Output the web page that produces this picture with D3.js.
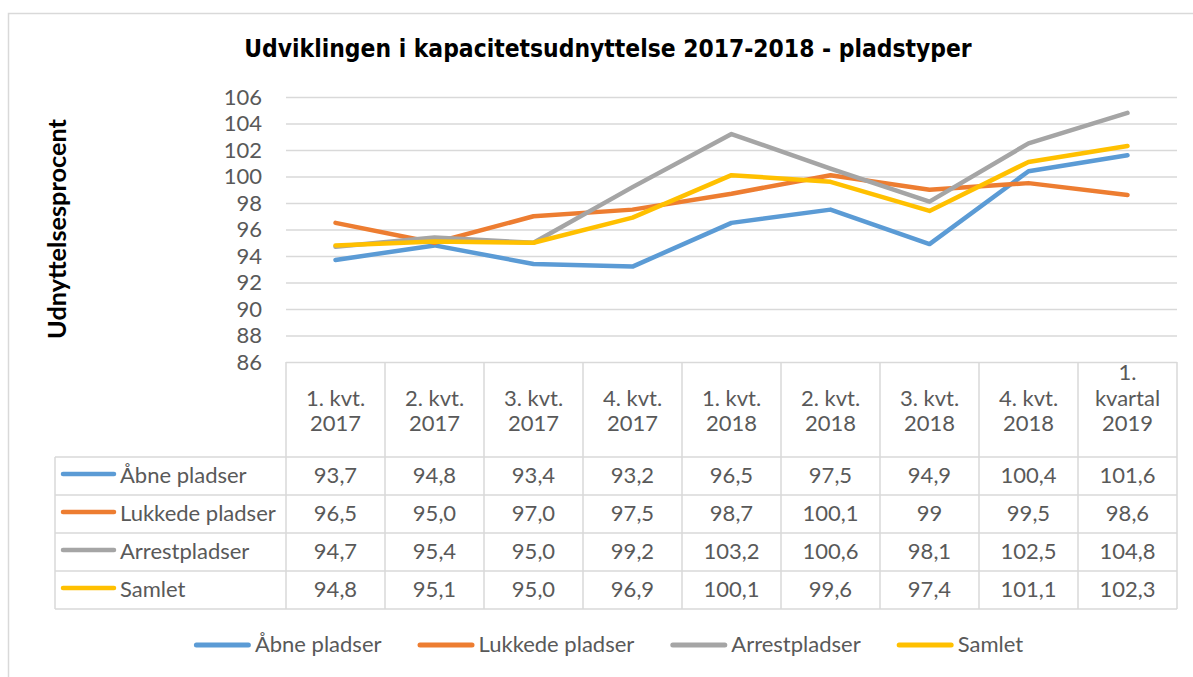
<!DOCTYPE html>
<html>
<head>
<meta charset="utf-8">
<script src="https://cdn.jsdelivr.net/npm/d3@7"></script>
<style>
  html, body { margin: 0; padding: 0; background: #fff; }
  svg { display: block; }
  text { font-family: Lato, "Open Sans", sans-serif; }
</style>
</head>
<body>
<svg id="chart" width="1193" height="677"></svg>
<script>
// ---- data ----
const categories = [
  ["1. kvt.", "2017"], ["2. kvt.", "2017"], ["3. kvt.", "2017"], ["4. kvt.", "2017"],
  ["1. kvt.", "2018"], ["2. kvt.", "2018"], ["3. kvt.", "2018"], ["4. kvt.", "2018"],
  ["1.", "kvartal", "2019"]
];
const seriesNames = ["Åbne pladser", "Lukkede pladser", "Arrestpladser", "Samlet"];
const aabne    = [93.7, 94.8, 93.4, 93.2, 96.5, 97.5, 94.9, 100.4, 101.6];
const lukkede  = [96.5, 95.0, 97.0, 97.5, 98.7, 100.1, 99, 99.5, 98.6];
const arrest   = [94.7, 95.4, 95.0, 99.2, 103.2, 100.6, 98.1, 102.5, 104.8];
const samlet   = [94.8, 95.1, 95.0, 96.9, 100.1, 99.6, 97.4, 101.1, 102.3];
// how each value is printed in the data table
const aabneLabels   = ["93,7","94,8","93,4","93,2","96,5","97,5","94,9","100,4","101,6"];
const lukkedeLabels = ["96,5","95,0","97,0","97,5","98,7","100,1","99","99,5","98,6"];
const arrestLabels  = ["94,7","95,4","95,0","99,2","103,2","100,6","98,1","102,5","104,8"];
const samletLabels  = ["94,8","95,1","95,0","96,9","100,1","99,6","97,4","101,1","102,3"];
const yTicks = [86, 88, 90, 92, 94, 96, 98, 100, 102, 104, 106];
const titleText = "Udviklingen i kapacitetsudnyttelse 2017-2018 - pladstyper";
const yTitleText = "Udnyttelsesprocent";

const colors = ["#5B9BD5", "#ED7D31", "#A5A5A5", "#FFC000"];
const seriesValues = [aabne, lukkede, arrest, samlet];
const seriesLabels = [aabneLabels, lukkedeLabels, arrestLabels, samletLabels];

// ---- layout ----
const svg = d3.select("#chart");
const plotLeft = 286, plotRight = 1177, plotTop = 97, plotBottom = 362;
const keyLeft = 55;
const headerBottom = 457;
const rowH = 38;
const gridColor = "#D9D9D9";
const textColor = "#595959";
const fontSize = 22;

const catIdx = categories.map((d, i) => i);
const x = d3.scaleBand().domain(catIdx).range([plotLeft, plotRight]).padding(0);
const y = d3.scaleLinear().domain([86, 106]).range([plotBottom, plotTop]);

// chart border
svg.append("rect")
  .attr("x", 8.5).attr("y", 13.5).attr("width", 1300).attr("height", 800)
  .attr("fill", "none").attr("stroke", gridColor).attr("stroke-width", 1.5);

// title
const title = svg.append("text")
  .attr("x", 608).attr("y", 57)
  .attr("text-anchor", "middle")
  .style("font-family", "'DejaVu Sans Condensed', 'DejaVu Sans', sans-serif")
  .style("font-stretch", "condensed")
  .style("font-weight", "bold")
  .style("font-size", "22px")
  .attr("fill", "#000")
  .text(titleText);
{
  const w = title.node().getComputedTextLength();
  title.style("font-size", (22 * 728 / w) + "px");
}

// y title
const yTitle = svg.append("text")
  .attr("transform", "translate(66,229) rotate(-90)")
  .attr("text-anchor", "middle")
  .style("font-weight", "bold")
  .style("font-size", "24px")
  .attr("fill", "#000")
  .text(yTitleText);
{
  const w = yTitle.node().getComputedTextLength();
  yTitle.style("font-size", (24 * 220 / w) + "px");
}

// gridlines
const grid = svg.append("g")
  .attr("transform", `translate(${plotLeft},0)`)
  .call(d3.axisLeft(y).tickValues(yTicks).tickSize(-(plotRight - plotLeft)).tickFormat(""));
grid.select(".domain").remove();
grid.selectAll(".tick line").attr("stroke", gridColor).attr("stroke-width", 1.5);

// y axis labels
const yAxis = svg.append("g")
  .attr("transform", `translate(262,0)`)
  .call(d3.axisLeft(y).tickValues(yTicks).tickSize(0).tickPadding(0).tickFormat(d3.format("d")));
yAxis.select(".domain").remove();
yAxis.selectAll(".tick text")
  .attr("fill", textColor)
  .style("font-size", fontSize + "px")
  .style("font-family", "Lato, sans-serif");

// ---- data table ----
const table = svg.append("g");
const tableBottom = headerBottom + rowH * seriesNames.length;
const rowLines = d3.range(seriesNames.length + 1).map(i => headerBottom + i * rowH);
table.selectAll("line.h").data(rowLines).join("line")
  .attr("x1", keyLeft).attr("x2", plotRight)
  .attr("y1", d => d).attr("y2", d => d)
  .attr("stroke", gridColor).attr("stroke-width", 1.5);
const bounds = catIdx.map(i => x(i)).concat([x(catIdx[catIdx.length - 1]) + x.bandwidth()]);
table.selectAll("line.v").data(bounds).join("line")
  .attr("x1", d => d).attr("x2", d => d)
  .attr("y1", plotBottom).attr("y2", tableBottom)
  .attr("stroke", gridColor).attr("stroke-width", 1.5);
table.append("line")
  .attr("x1", keyLeft).attr("x2", keyLeft)
  .attr("y1", headerBottom).attr("y2", tableBottom)
  .attr("stroke", gridColor).attr("stroke-width", 1.5);

// header labels (bottom aligned)
const headerLastBaseline = 431, headerLineH = 25.5;
categories.forEach((lines, i) => {
  const t = table.append("text")
    .attr("text-anchor", "middle")
    .attr("fill", textColor)
    .style("font-size", fontSize + "px");
  lines.forEach((ln, j) => {
    t.append("tspan")
      .attr("x", x(i) + x.bandwidth() / 2)
      .attr("y", headerLastBaseline - (lines.length - 1 - j) * headerLineH)
      .text(ln);
  });
});

// rows
seriesNames.forEach((name, s) => {
  const cy = headerBottom + s * rowH + rowH / 2;
  table.append("line")
    .attr("x1", 63).attr("x2", 114)
    .attr("y1", cy - 2).attr("y2", cy - 2)
    .attr("stroke", colors[s]).attr("stroke-width", 4.5).attr("stroke-linecap", "round");
  table.append("text")
    .attr("x", 120).attr("y", cy + 7)
    .attr("fill", textColor)
    .style("font-size", fontSize + "px")
    .text(name);
  table.selectAll(null).data(seriesLabels[s]).join("text")
    .attr("x", (d, i) => x(i) + x.bandwidth() / 2)
    .attr("y", cy + 7)
    .attr("text-anchor", "middle")
    .attr("fill", textColor)
    .style("font-size", fontSize + "px")
    .text(d => d);
});

// ---- lines ----
const line = d3.line()
  .x((d, i) => x(i) + x.bandwidth() / 2)
  .y(d => y(d));
svg.append("g").selectAll("path").data(seriesValues).join("path")
  .attr("d", d => line(d))
  .attr("fill", "none")
  .attr("stroke", (d, i) => colors[i])
  .attr("stroke-width", 4.5)
  .attr("stroke-linejoin", "round")
  .attr("stroke-linecap", "round");

// ---- bottom legend ----
const legend = svg.append("g");
const legLine = 57, legGap = 4, legSpacing = 36, legY = 645;
const items = seriesNames.map((name, i) => {
  const g = legend.append("g");
  g.append("line")
    .attr("x1", 2.5).attr("x2", legLine - 2.5)
    .attr("y1", 0).attr("y2", 0)
    .attr("stroke", colors[i]).attr("stroke-width", 5).attr("stroke-linecap", "round");
  const t = g.append("text")
    .attr("x", legLine + legGap).attr("y", 7)
    .attr("fill", textColor)
    .style("font-size", fontSize + "px")
    .text(name);
  return { g, w: legLine + legGap + t.node().getComputedTextLength() };
});
const total = d3.sum(items, d => d.w) + legSpacing * (items.length - 1);
let cx = 608.5 - total / 2;
items.forEach(it => {
  it.g.attr("transform", `translate(${cx},${legY})`);
  cx += it.w + legSpacing;
});
</script>
</body>
</html>
